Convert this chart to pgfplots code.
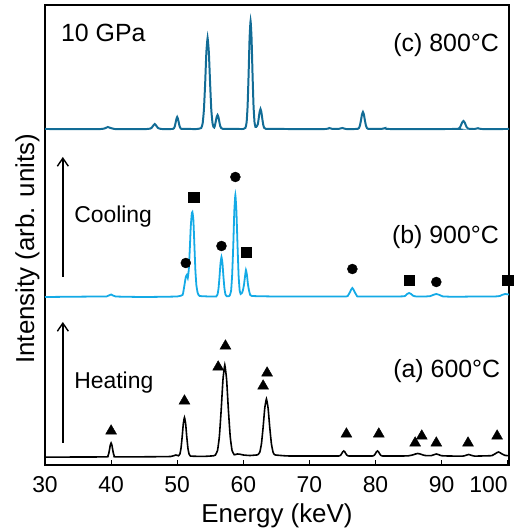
\documentclass[border=0pt]{standalone}
\usepackage{fontspec}
\setmainfont{Liberation Sans}
\usepackage{pgfplots}
\pgfplotsset{compat=1.18}
\usetikzlibrary{arrows.meta}
\definecolor{cA}{RGB}{0,0,0}
\definecolor{cB}{RGB}{20,170,230}
\definecolor{cC}{RGB}{18,108,150}
\begin{document}
\begin{tikzpicture}
\begin{axis}[
  scale only axis, width=464bp, height=460bp,
  xmin=30, xmax=100.2, ymin=0, ymax=460,
  axis line style={line width=1.6pt},
  xtick={30,40,...,100}, ytick=\empty,
  xticklabels={30,40,50,60,70,80,90,\makebox[0pt][r]{100}},
  xtick pos=bottom, tick align=inside,
  major tick length=5bp,
  tick style={line width=1pt, black},
  /pgf/number format/assume math mode=true,
  xticklabel style={font=\fontsize{23}{26}\selectfont, anchor=base, yshift=-27bp},
  xlabel={Energy (keV)}, ylabel={Intensity (arb. units)},
  label style={font=\fontsize{26}{30}\selectfont},
  xlabel style={at={(axis description cs:0.5,0)}, anchor=base, yshift=-57bp},
  ylabel style={at={(axis description cs:0,0.47)}, anchor=south, yshift=2bp},
  clip=false,
  every axis plot/.append style={smooth, tension=0.25},
]
% (a) 600C
\addplot[cA, line width=1.6pt, no marks] coordinates {
(30,7.8)(35,8)(39.35,8.1)(39.5,8.8)(39.625,10.9)(39.75,15)(39.875,19.8)(40,22)(40.125,19.8)(40.25,15)(40.375,10.9)(40.5,8.8)(40.65,8.1)
(45,8.2)(49,8.5)(49.8,10)(50.19,9.2)(50.4,10.8)(50.575,16.7)(50.75,28)(50.925,41.3)(51.1,47.5)(51.275,41.3)(51.45,28)(51.625,16.7)(51.8,10.8)(52.01,8.9)
(54,8.6)(55.5,9.2)(55.77,9.9)(56.1,14.5)(56.375,28.1)(56.65,54.5)(56.925,85.4)(57.2,100)(57.475,85.4)(57.75,54.5)(58.025,28.1)(58.3,14.5)(58.63,10.3)
(59.1,11)(59.5,10.8)(60,10)(61,9.5)(62,10)
(62.2,10.3)(62.5,12.9)(62.75,21.4)(63.0,37.8)(63.25,57)(63.5,66)(63.75,57)(64.0,37.8)(64.25,21.4)(64.5,12.9)(64.8,10.1)
(67,9)(74,9)(74.42,9)(74.6,9.3)(74.75,10)(74.9,11.5)(75.05,13.2)(75.2,14)(75.35,13.2)(75.5,11.5)(75.65,10)(75.8,9.3)(75.98,9)
(79,9)(79.52,9)(79.7,9.3)(79.85,10)(80.0,11.5)(80.15,13.2)(80.3,14)(80.45,13.2)(80.6,11.5)(80.75,10)(80.9,9.3)(81.08,9)
(84,9)(85.0,9.2)(85.7,10.2)(86.05,11)(86.4,11.5)(86.75,11)(87.1,10.2)(87.5,9.5)(88,9.3)
(88.4,9.3)(88.8,10.2)(89.2,11)(89.6,10.2)(90.0,9.3)(91,9)
(93.2,8.9)(93.65,9.6)(94.1,10.5)(94.55,9.6)(95.0,8.9)(97,9.2)
(97.6,9.4)(98.1,11.2)(98.35,12.3)(98.6,13)(98.85,12.3)(99.1,11.2)(99.6,9.6)(100.2,9.3)
};
% (b) 900C
\addplot[cB, line width=1.8pt, no marks] coordinates {
(30,168)(38,168.5)(39.3,168.5)(40,170.5)(40.7,168.5)(45,168)(50,168.5)(50.8,170)
(50.9,172)(51.1,180)(51.3,188)(51.45,190)(51.6,187)(51.75,195)(51.9,215)(52.05,238)(52.2,251)(52.3,253)(52.45,245)(52.6,220)(52.75,195)(52.9,180)(53.1,172)(53.4,169)
(55,168.5)(55.92,168.6)(56.1,170.5)(56.25,176.5)(56.4,188)(56.55,201.6)(56.7,208)(56.85,201.6)(57.0,188)(57.15,176.5)(57.3,170.5)(57.48,168.8)
(57.8,168.8)(57.95,169.5)(58.15,174)(58.31,189.4)(58.48,219)(58.64,253.7)(58.8,270)(58.96,253.7)(59.13,219)(59.29,189.4)(59.45,174.5)
(59.6,171)(59.8,172)(59.95,175)(60.1,180)(60.25,188)(60.4,195)(60.55,190)(60.7,181)(60.85,175)(61.0,171)(61.3,169)
(65,168.5)(70,168.5)(75,168.5)
(75.6,168.6)(75.8,169)(76.15,173)(76.32,175.5)(76.5,177)(76.67,175.5)(76.85,173)(77.2,169)(77.5,168.5)
(83,168.5)(84.3,168.7)(84.5,169.2)(84.8,171)(85.1,172)(85.4,171)(85.7,169.2)(86.2,168.5)
(87.5,168.5)(88.3,168.9)(88.7,170)(89.2,171)(89.7,170)(90.2,168.6)(92,168.2)(95,168.5)(98,168.5)
(98.8,169)(99.2,170.2)(99.6,171)(100.2,170.5)
};
% (c) 800C
\addplot[cC, line width=2pt, no marks] coordinates {
(30,336)(38.5,336)(39.5,338)(40.5,336)(45.5,336)(46.1,337)(46.6,341)(47.1,337)(47.6,336)(49.3,336)
(49.35,336.1)(49.5,336.7)(49.63,338.5)(49.75,342)(49.88,346)(50,348)(50.12,346)(50.25,342)(50.38,338.5)(50.5,336.7)(50.65,336.1)
(53,336)(53.63,337)(53.85,341.5)(54.04,355)(54.23,381.5)(54.41,412.5)(54.6,427)(54.79,412.5)(54.98,381.5)(55.16,355)(55.35,341.5)(55.5,338)
(55.6,337.5)(55.69,338.9)(55.82,343)(55.96,347.8)(56.1,350)(56.24,347.8)(56.38,343)(56.51,338.9)(56.65,337)(56.9,336.2)
(60,336)(60.32,337.1)(60.5,342.5)(60.65,358.7)(60.8,390)(60.95,426.7)(61.1,444)(61.25,426.7)(61.4,390)(61.55,358.7)(61.7,342.5)(61.85,338)
(61.95,338)(62.19,340.5)(62.32,346)(62.46,352.8)(62.6,356)(62.74,352.8)(62.88,346)(63.01,340.5)(63.15,337.2)(63.4,336.2)
(66,336)(72.5,336)(73,337)(73.5,336)(74.5,336.2)(75,337)(75.5,336)(77,336)
(77.32,336.2)(77.5,337)(77.65,339.6)(77.8,344.5)(77.95,350.3)(78.1,353)(78.25,350.3)(78.4,344.5)(78.55,339.6)(78.7,337)(78.88,336.2)
(81,336.2)(81.5,337)(82,336)(92,336)
(92.4,336.1)(92.6,336.5)(92.8,337.7)(92.95,340)(93.12,342.7)(93.3,344)(93.48,342.7)(93.65,340)(93.8,337.7)(94,336.5)(94.2,336.1)(95,336)(95.5,336.8)(96,336)(100.2,336)
};
% markers (a): triangles
\addplot[only marks, mark=triangle*, mark size=6.3bp, black] coordinates {
(40.0,34)(51.1,64)(56.2,98)(57.3,119)(63.0,79)(63.6,92)(75.6,31)(80.5,31)(86.0,22)(87.0,29)(89.2,22)(94.0,22)(98.4,29)
};
% markers (b): circles
\addplot[only marks, mark=*, mark size=5bp, black] coordinates {
(51.3,202)(56.7,219)(58.8,288)(76.5,196)(89.2,183)
};
% markers (b): squares
\addplot[only marks, mark=square*, mark size=5.2bp, black] coordinates {
(52.5,268)(60.4,213)(85.1,185)(100,185)
};
\node[anchor=west, font=\fontsize{25}{28}\selectfont] at (axis cs:31.9,432) {10 GPa};
\node[anchor=east, font=\fontsize{25}{28}\selectfont] at (axis cs:99.2,420) {(c) 800°C};
\node[anchor=east, font=\fontsize{25}{28}\selectfont] at (axis cs:99.2,228) {(b) 900°C};
\node[anchor=east, font=\fontsize{25}{28}\selectfont] at (axis cs:99.4,94) {(a) 600°C};
\node[anchor=west, font=\fontsize{23}{26}\selectfont] at (axis cs:33.9,248) {Cooling};
\node[anchor=west, font=\fontsize{23}{26}\selectfont] at (axis cs:33.9,82) {Heating};
\draw[-{Straight Barb[length=8bp,width=11bp]}, line width=1.4pt] (axis cs:32.7,188) -- (axis cs:32.7,308);
\draw[-{Straight Barb[length=8bp,width=11bp]}, line width=1.4pt] (axis cs:32.7,22) -- (axis cs:32.7,143);
\end{axis}
\pgfresetboundingbox
\path[use as bounding box] ([xshift=-45bp,yshift=-67bp]current axis.south west) rectangle ([xshift=13bp,yshift=5bp]current axis.north east);
\end{tikzpicture}
\end{document}
